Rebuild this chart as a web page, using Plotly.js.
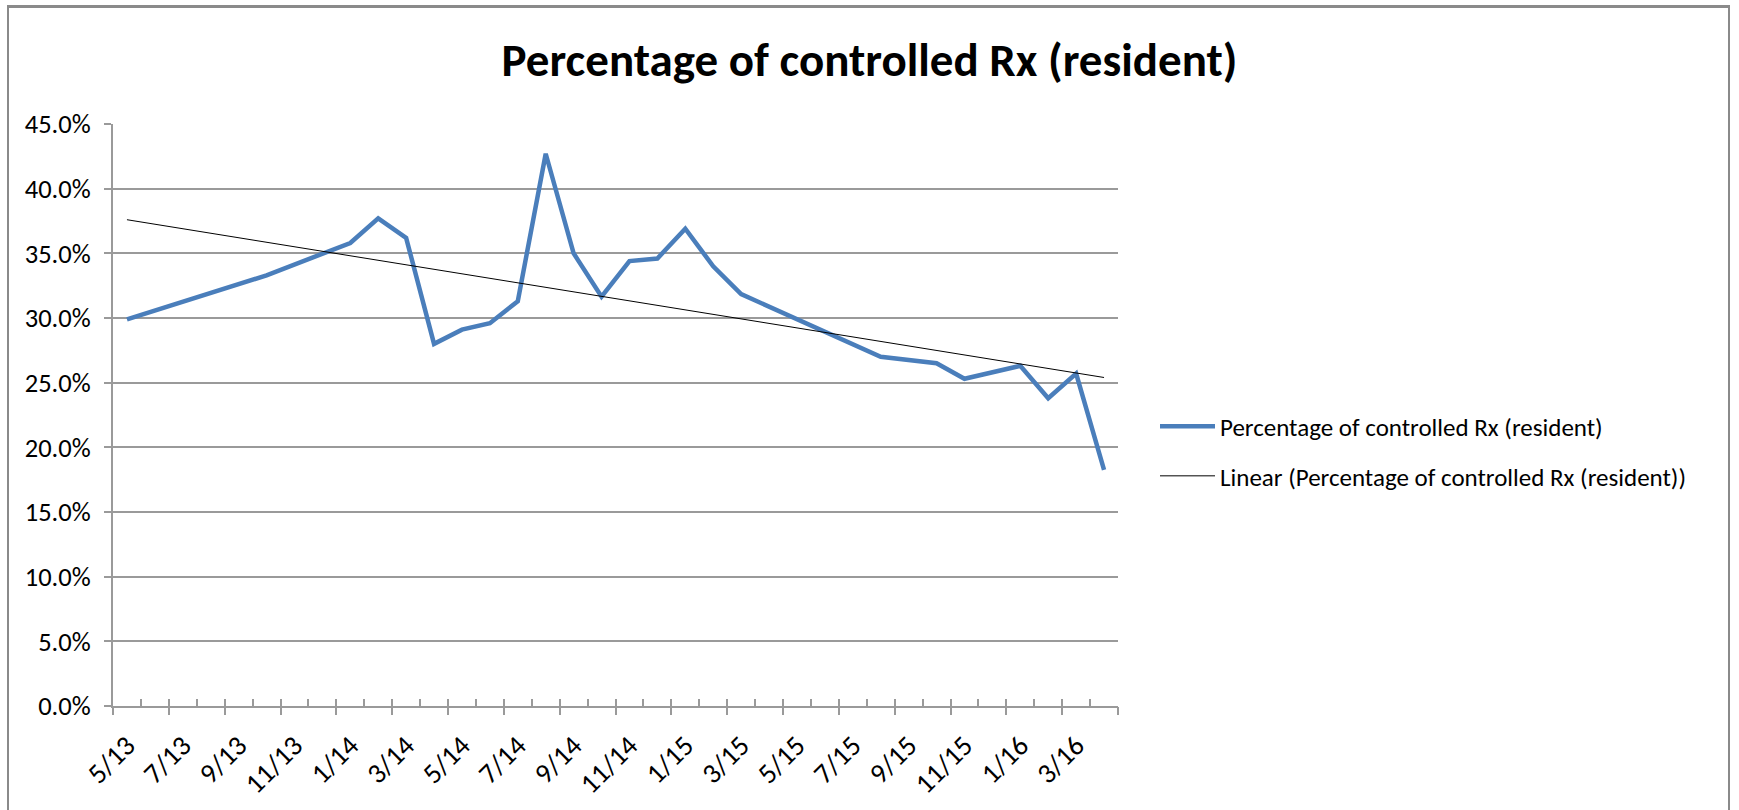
<!DOCTYPE html>
<html>
<head>
<meta charset="utf-8">
<script src="https://cdn.plot.ly/plotly-3.0.1.min.js"></script>
<style>
  html, body { margin: 0; padding: 0; background: #fff; }
  #wrap { position: relative; width: 1739px; height: 810px; overflow: hidden; }
  #chart { position: absolute; left: 0; top: 0; width: 1739px; height: 810px; }
  #frame { position: absolute; left: 7px; top: 5px; width: 1723px; height: 820px;
           border: 2px solid #8a8a8a; border-top-width: 3px; box-sizing: border-box; pointer-events: none; }
</style>
</head>
<body>
<div id="wrap">
  <div id="chart"></div>
  <div id="frame"></div>
</div>
<script>
// ---- data ----
var months = ['5/13','6/13','7/13','8/13','9/13','10/13','11/13','12/13',
              '1/14','2/14','3/14','4/14','5/14','6/14','7/14','8/14','9/14','10/14','11/14','12/14',
              '1/15','2/15','3/15','4/15','5/15','6/15','7/15','8/15','9/15','10/15','11/15','12/15',
              '1/16','2/16','3/16','4/16'];
// percentage of controlled Rx (resident); null = no visible vertex in the picture
var pctControlled = [29.9, null, null, null, null, 33.3, null, null,
                     35.8, 37.7, 36.2, 28.0, 29.1, 29.6, 31.3, 42.7, 35.0, 31.65, 34.4, 34.6,
                     36.9, 34.0, 31.85, null, null, null, null, 27.0, null, 26.5, 25.3, null,
                     26.3, 23.8, 25.7, 18.25];
// linear trendline end values as drawn in the reference
var trendMonths = ['5/13', '4/16'];
var trendValues = [37.6, 25.4];
var tickLabels = months.filter(function (m, i) { return i % 2 === 0; });

var seriesName = 'Percentage of controlled Rx (resident)';
var trendName = 'Linear (Percentage of controlled Rx (resident))';

// ---- build ----
var idx = months.map(function (m, i) { return i; });
var labelVals = tickLabels.map(function (m) { return months.indexOf(m); });
var majorB = [], minorB = [];
for (var b = 0; b <= months.length; b++) {
  var v = b - 0.5;
  if (b % 2 === 0) majorB.push(v); else minorB.push(v);
}
var rng = [-0.5, months.length - 0.5];
var FONT = 'Carlito, Calibri, "Liberation Sans Narrow", Lato, sans-serif';
var GRID = '#9a9a9a';

var traces = [
  { x: idx, y: pctControlled, type: 'scatter', mode: 'lines', connectgaps: true,
    name: seriesName, line: { color: '#4a7ebb', width: 4.5 }, xaxis: 'x', yaxis: 'y',
    legendgroup: 'a', hoverinfo: 'x+y' },
  { x: trendMonths.map(function (m) { return months.indexOf(m); }), y: trendValues,
    type: 'scatter', mode: 'lines', name: trendName,
    line: { color: '#000000', width: 1 }, xaxis: 'x2', yaxis: 'y', legendgroup: 'b' },
  { x: [], y: [], type: 'scatter', mode: 'lines', xaxis: 'x3', yaxis: 'y', showlegend: false }
];

var layout = {
  width: 1739, height: 810,
  margin: { l: 113, r: 621, t: 124, b: 104 },
  paper_bgcolor: '#fff', plot_bgcolor: '#fff',
  font: { family: FONT, size: 25, color: '#000' },
  showlegend: true,
  title: { text: 'Percentage of controlled Rx (resident)', x: 0.5, xref: 'container',
           y: 1 - 60 / 810, yref: 'container', yanchor: 'middle',
           font: { family: FONT, size: 47, weight: 'bold', color: '#000' } },
  xaxis: { range: rng, tickmode: 'array', tickvals: labelVals, ticktext: tickLabels,
           tickangle: -45, ticks: '', showgrid: false, zeroline: false,
           showline: true, linecolor: GRID, linewidth: 2, ticklabelstandoff: 10,
           tickfont: { family: FONT, size: 28, color: '#000' }, fixedrange: true },
  xaxis2: { overlaying: 'x', anchor: 'y', side: 'bottom', range: rng, tickmode: 'array',
            tickvals: majorB, ticks: 'outside', ticklen: 8, tickwidth: 2, tickcolor: GRID,
            showticklabels: false, showgrid: false, zeroline: false, showline: false,
            minor: { tickmode: 'array', tickvals: minorB, ticks: 'inside', ticklen: 7,
                     tickwidth: 2, tickcolor: GRID, showgrid: false } },
  xaxis3: { overlaying: 'x', anchor: 'y', side: 'bottom', range: rng, tickmode: 'array',
            tickvals: majorB, ticks: 'inside', ticklen: 7, tickwidth: 2, tickcolor: GRID,
            showticklabels: false, showgrid: false, zeroline: false, showline: false },
  yaxis: { range: [0, 45], dtick: 5, tick0: 0, tickformat: '.1f', ticksuffix: '%',
           showgrid: true, gridcolor: GRID, gridwidth: 2, zeroline: false,
           showline: true, linecolor: GRID, linewidth: 2,
           ticks: 'outside', ticklen: 7, tickwidth: 2, tickcolor: GRID,
           ticklabelstandoff: 8,
           tickfont: { family: FONT, size: 26.5, color: '#000' } },
  legend: { x: (1155 - 113) / 1005, xanchor: 'left', y: 0.438, yanchor: 'middle',
            traceorder: 'grouped', tracegroupgap: 14, bgcolor: 'rgba(0,0,0,0)',
            itemwidth: 55,
            font: { family: FONT, size: 25, color: '#000' } }
};

Plotly.newPlot('chart', traces, layout, { staticPlot: true, displayModeBar: false });
</script>
</body>
</html>
